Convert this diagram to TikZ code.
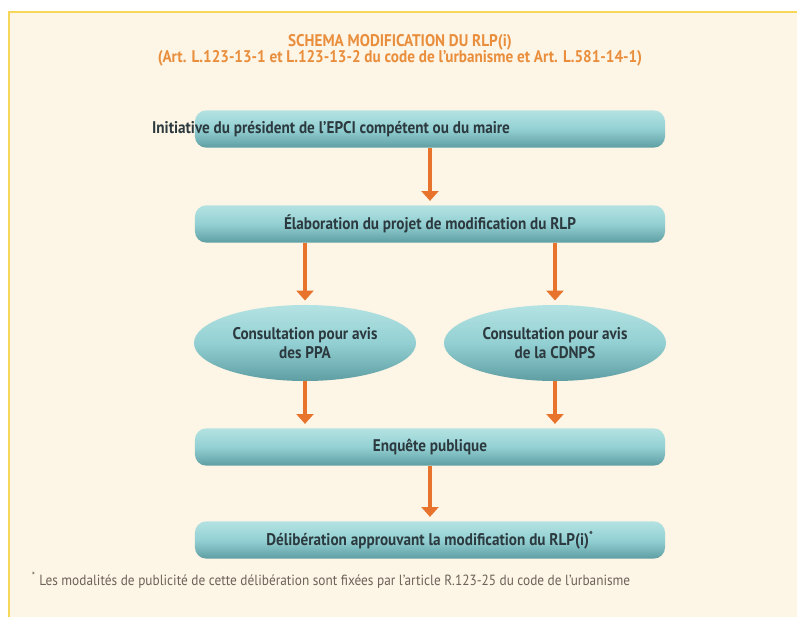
\documentclass[tikz,border=0pt]{standalone}
\usepackage{fontspec}
\setmainfont{PT Sans}[FakeStretch=0.9]
\usetikzlibrary{arrows.meta}
\usetikzlibrary{shapes.geometric}

\definecolor{creme}{HTML}{FDF5E5}
\definecolor{jaune}{HTML}{F6D75A}
\definecolor{titre}{HTML}{E98E3C}
\definecolor{fleche}{HTML}{E8732C}
\definecolor{tealhaut}{HTML}{B4E2E2}
\definecolor{tealmilieu}{HTML}{93D0D3}
\definecolor{tealbas}{HTML}{5E9EA3}
\definecolor{encre}{HTML}{2C3A3F}
\definecolor{note}{HTML}{6E625A}

\begin{document}
\begin{tikzpicture}  [x=0.025cm, y=-0.025cm,
  etape/.style={rounded corners=8pt, minimum width=11.75cm, minimum height=0.93cm, inner sep=0pt,
    top color=tealhaut, bottom color=tealbas, middle color=tealmilieu},
  avis/.style={ellipse, minimum width=5.55cm, minimum height=1.9cm, inner sep=0pt,
    top color=tealhaut, bottom color=tealbas, middle color=tealmilieu},
  texte/.style={font=\bfseries\fontsize{12}{14}\selectfont, text=encre, align=center},
  lien/.style={draw=fleche, line width=2.3pt, -{Triangle[width=12pt, length=7pt]}, shorten >=3pt}]
% fond
\useasboundingbox (0,0) rectangle (797,617);
\fill[white] (0,0) rectangle (797,617);
\fill[creme] (9,12) rectangle (797,617);
\draw[jaune, line width=1.6pt] (797,12) -- (9,12) -- (9,617);
% titre
\node[titre, font=\bfseries\fontsize{12}{14}\selectfont] (titre1) at (400,42) {SCHEMA MODIFICATION DU RLP(i)};
\node[titre, font=\bfseries\fontsize{12}{14}\selectfont] (titre2) at (400,58) {(Art. L.123-13-1 et L.123-13-2 du code de l’urbanisme et Art. L.581-14-1)};
% etapes
\node[etape] (init) at (430,129) {};
\node[texte] (inittxt) at (331,129) {Initiative du président de l’EPCI compétent ou du maire};
\node[etape] (elab) at (430,224) {};
\node[texte] (elabtxt) at (430,224) {Élaboration du projet de modification du RLP};
\node[avis] (ppa) at (305,343) {};
\node[texte, font=\bfseries\fontsize{12}{13}\selectfont] (ppatxt) at (305,343) {Consultation pour avis\\des PPA};
\node[avis] (cdnps) at (555,343) {};
\node[texte, font=\bfseries\fontsize{12}{13}\selectfont] (cdnpstxt) at (555,343) {Consultation pour avis\\de la CDNPS};
\node[etape] (enq) at (430,447) {};
\node[texte] (enqtxt) at (430,447) {Enquête publique};
\node[etape] (delib) at (430,540) {};
\node[texte] (delibtxt) at (430,540) {Délibération approuvant la modification du RLP(i)\textsuperscript{*}};
% fleches
\draw[lien] (init.south) -- (elab.north);
\draw[lien] (elab.south -| ppa.north) -- (ppa.north);
\draw[lien] (elab.south -| cdnps.north) -- (cdnps.north);
\draw[lien] (ppa.south) -- (ppa.south |- enq.north);
\draw[lien] (cdnps.south) -- (cdnps.south |- enq.north);
\draw[lien] (enq.south) -- (delib.north);
% note
\node[anchor=west, text=note, font=\fontsize{10.5}{12}\selectfont] (renvoi) at (27,580) {\textsuperscript{*} Les modalités de publicité de cette délibération sont fixées par l’article R.123-25 du code de l’urbanisme};

\end{tikzpicture}
\end{document}
